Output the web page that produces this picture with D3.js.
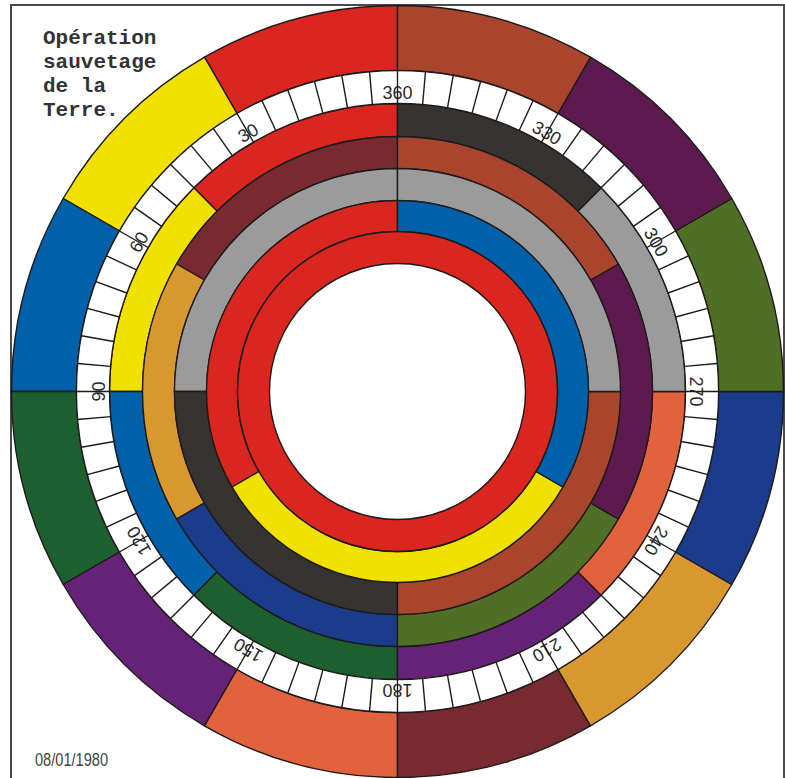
<!DOCTYPE html>
<html>
<head>
<meta charset="utf-8">
<script src="https://cdn.jsdelivr.net/npm/d3@7"></script>
<style>
  html, body { margin: 0; padding: 0; background: #ffffff; }
  svg { display: block; }
</style>
</head>
<body>
<script>
// ---------- DATA ----------
// Angles in degrees, counted counter-clockwise from the top (360 at top, 90 left, 270 right).
const ringASpans  = [30, 30, 30, 30, 30, 30, 30, 30, 30, 30, 30, 30];
const ringAColors = ["#d9261f", "#f0e100", "#0060a9", "#1e5f2f", "#662277", "#e2623d",
                     "#772a2f", "#d9972f", "#1b3b8b", "#4f6f26", "#5d1a4f", "#a9452c"];

const ringBSpans  = [45, 45, 45, 45, 45, 45, 45, 45];
const ringBColors = ["#d9261f", "#f0e100", "#0060a9", "#1e5f2f", "#662277", "#e2623d", "#9b9b9b", "#363432"];

const ringCSpans  = [60, 60, 60, 60, 60, 60];
const ringCColors = ["#772a2f", "#d9972f", "#1b3b8b", "#4f6f26", "#5d1a4f", "#a9452c"];

const ringDSpans  = [90, 90, 90, 90];
const ringDColors = ["#9b9b9b", "#363432", "#a9452c", "#9b9b9b"];

const ringESpans  = [120, 120, 120];
const ringEColors = ["#d9261f", "#f0e100", "#0060a9"];

const ringFSpans  = [360];
const ringFColors = ["#d9261f"];

const tickStep    = 5;
const tickLabels  = ["360", "330", "300", "270", "240", "210", "180", "150", "120", "90", "60", "30"];
const titleLines  = ["Opération", "sauvetage", "de la", "Terre."];
const dateLabel   = "08/01/1980";

// ---------- LAYOUT ----------
const W = 785, H = 778;
const cx = 397.5, cy = 391.5;
const radii = {
  A: [321, 386], T: [288, 321], B: [255, 288], C: [223, 255],
  D: [191, 223], E: [160, 191], F: [128, 160]
};
const lineColor = "#1f1a1a";

const svg = d3.select("body").append("svg")
  .attr("width", W).attr("height", H)
  .attr("viewBox", `0 0 ${W} ${H}`);

// frame
svg.append("rect")
  .attr("x", 11).attr("y", 5)
  .attr("width", 773).attr("height", 790)
  .attr("fill", "#ffffff")
  .attr("stroke", "#4a4a4a").attr("stroke-width", 2);

// angle scale: degrees CCW from top -> d3 arc radians (clockwise positive)
const angle = d3.scaleLinear().domain([0, 360]).range([0, -2 * Math.PI]);

const g = svg.append("g").attr("transform", `translate(${cx},${cy})`);

function drawRing(spans, colors, r) {
  let acc = 0;
  const segs = spans.map((s, i) => {
    const d = { start: acc, end: acc + s, color: colors[i] };
    acc += s;
    return d;
  });
  const arc = d3.arc()
    .innerRadius(r[0]).outerRadius(r[1])
    .startAngle(d => angle(d.start))
    .endAngle(d => angle(d.end));
  g.append("g").selectAll("path").data(segs).join("path")
    .attr("d", arc)
    .attr("fill", d => d.color)
    .attr("stroke", lineColor)
    .attr("stroke-width", 1.4)
    .attr("stroke-linejoin", "round");
}

drawRing(ringASpans, ringAColors, radii.A);
drawRing(ringBSpans, ringBColors, radii.B);
drawRing(ringCSpans, ringCColors, radii.C);
drawRing(ringDSpans, ringDColors, radii.D);
drawRing(ringESpans, ringEColors, radii.E);
drawRing(ringFSpans, ringFColors, radii.F);

// tick ring
g.append("path")
  .attr("d", d3.arc().innerRadius(radii.T[0]).outerRadius(radii.T[1]).startAngle(0).endAngle(2 * Math.PI)())
  .attr("fill", "#ffffff")
  .attr("stroke", lineColor).attr("stroke-width", 1.4);

// labels
const labelG = g.append("g");
tickLabels.forEach(t => {
  const deg = +t;
  labelG.append("text")
    .attr("transform", `rotate(${-deg})`)
    .attr("x", 0).attr("y", -292.5)
    .attr("text-anchor", "middle")
    .attr("font-family", "'Liberation Sans', Arial, sans-serif")
    .attr("font-size", 18)
    .attr("fill", "#2a2a2a")
    .text(t);
});

// tick lines
const ticks = d3.range(0, 360, tickStep);
g.append("g").selectAll("line").data(ticks).join("line")
  .attr("transform", d => `rotate(${-d})`)
  .attr("x1", 0).attr("x2", 0)
  .attr("y1", -radii.T[0]).attr("y2", -radii.T[1])
  .attr("stroke", lineColor).attr("stroke-width", 1.4);

// title
const title = svg.append("text")
  .attr("font-family", "'Liberation Mono', 'Courier New', monospace")
  .attr("font-weight", "bold")
  .attr("font-size", 21)
  .attr("fill", "#333333");
titleLines.forEach((l, i) => {
  title.append("tspan").attr("x", 43).attr("y", 43.5 + i * 24.2).text(l);
});

// date
svg.append("text")
  .attr("x", 35).attr("y", 766)
  .attr("font-family", "'Liberation Sans', Arial, sans-serif")
  .attr("font-size", 18)
  .attr("textLength", 73).attr("lengthAdjust", "spacingAndGlyphs")
  .attr("fill", "#444444")
  .text(dateLabel);
</script>
</body>
</html>
